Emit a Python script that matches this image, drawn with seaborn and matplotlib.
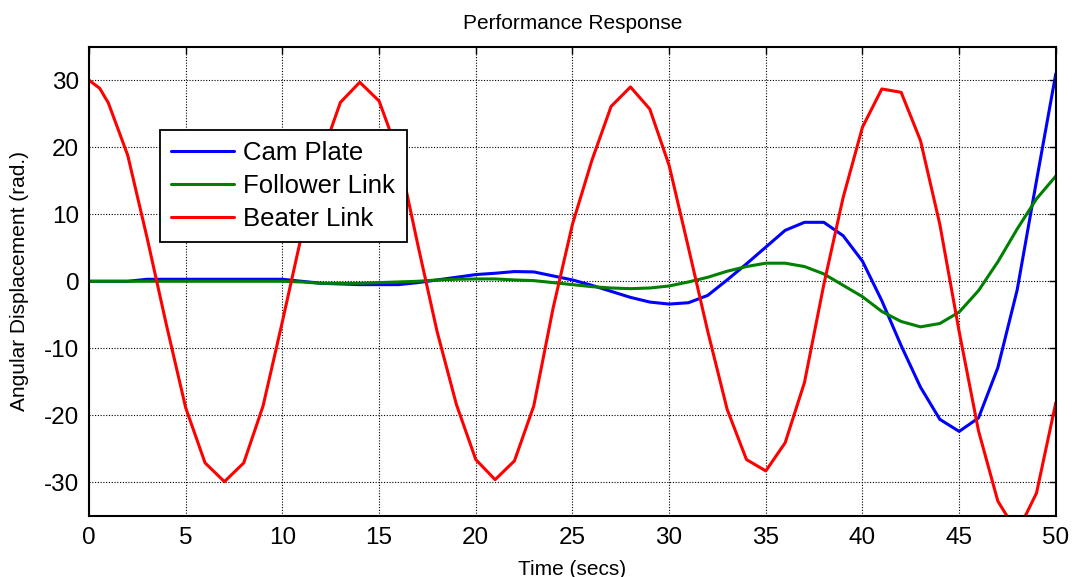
import numpy as np
import pandas as pd
import matplotlib
matplotlib.use("Agg")
import matplotlib.pyplot as plt
import seaborn as sns

# Simulation output (time in seconds, angular displacement in rad.)
time = [0, 0.55] + list(range(1, 51))

cam_plate = [0, 0, 0, 0, 0.3, 0.3, 0.3, 0.3, 0.3, 0.3, 0.3, 0.3,
             0.0, -0.3, -0.4, -0.5, -0.5, -0.5, -0.2, 0.2, 0.6, 1.0,
             1.2, 1.45, 1.4, 0.8, 0.2, -0.6, -1.5, -2.4, -3.1, -3.4,
             -3.2, -2.1, 0.2, 2.6, 5.1, 7.6, 8.8, 8.8, 6.8, 3.0,
             -2.9, -9.6, -15.8, -20.6, -22.4, -20.4, -12.9, -1.3, 15.0, 31.0]

follower_link = [0, 0, 0, 0, 0, 0, 0, 0, 0, 0, 0, 0,
                 -0.1, -0.3, -0.3, -0.3, -0.2, -0.1, 0.0, 0.2, 0.3, 0.35,
                 0.35, 0.2, 0.1, -0.2, -0.5, -0.8, -1.0, -1.1, -1.0, -0.7,
                 -0.1, 0.6, 1.5, 2.2, 2.7, 2.7, 2.2, 1.1, -0.6, -2.3,
                 -4.5, -6.0, -6.8, -6.3, -4.6, -1.4, 2.9, 7.8, 12.3, 15.7]

beater_link = [30.0, 28.8, 26.6, 18.8, 6.5, -6.5, -18.9, -27.1, -29.9, -27.1,
               -18.6, -6.0, 7.0, 18.5, 26.7, 29.7, 26.9, 19.0, 5.5, -7.5,
               -18.4, -26.6, -29.6, -26.8, -18.6, -4.0, 8.5, 18.0, 26.1, 29.0,
               25.7, 17.3, 5.0, -7.5, -19.1, -26.6, -28.3, -24.1, -15.1, -0.5,
               12.5, 23.0, 28.7, 28.2, 21.0, 8.5, -7.5, -22.3, -32.8, -37.5,
               -31.6, -18.1]

series_names = ["Cam Plate", "Follower Link", "Beater Link"]
series_colors = {"Cam Plate": "#0000ff", "Follower Link": "#008000", "Beater Link": "#ff0000"}

x_ticks = list(range(0, 51, 5))
y_ticks = list(range(-30, 31, 10))

df = pd.concat([
    pd.DataFrame({"Time": time, "Value": vals, "Series": name})
    for name, vals in zip(series_names, [cam_plate, follower_link, beater_link])
], ignore_index=True)

sns.set_style("white")
plt.rcParams["font.family"] = ["Liberation Sans", "DejaVu Sans"]
plt.rcParams["axes.unicode_minus"] = False
plt.rcParams["text.color"] = "black"
plt.rcParams["axes.labelcolor"] = "black"
plt.rcParams["xtick.color"] = "black"
plt.rcParams["ytick.color"] = "black"

fig = plt.figure(figsize=(10.73, 5.77), dpi=100)
ax = fig.add_axes([0.083, 0.106, 0.901, 0.813])

sns.lineplot(data=df, x="Time", y="Value", hue="Series", hue_order=series_names,
             palette=series_colors, sort=False, estimator=None, linewidth=2.2,
             ax=ax, legend=False)

ax.set_xlim(0, 50)
ax.set_ylim(-35, 35)
ax.set_xticks(x_ticks)
ax.set_yticks(y_ticks)
ax.tick_params(axis="both", direction="in", length=5, width=1, labelsize=17.5,
               top=True, right=True, colors="black")
ax.tick_params(axis="x", pad=8)
ax.tick_params(axis="y", pad=7)

ax.grid(True, color="black", linestyle=(0, (1, 1.5)), linewidth=0.8)
ax.set_axisbelow(True)
for sp in ax.spines.values():
    sp.set_color("black")
    sp.set_linewidth(1.5)

ax.set_title("Performance Response", fontsize=15, pad=13)
ax.set_xlabel("Time (secs)", fontsize=15, labelpad=8)
ax.set_ylabel("Angular Displacement (rad.)", fontsize=15, labelpad=11)

handles = [plt.Line2D([], [], color=series_colors[n], linewidth=2.2) for n in series_names]
leg = ax.legend(handles, series_names, loc="upper left", bbox_to_anchor=(0.073, 0.823),
                fontsize=18.5, frameon=True, fancybox=False, framealpha=1,
                edgecolor="black", handlelength=2.45, handletextpad=0.35,
                borderpad=0.45, labelspacing=0.34, borderaxespad=0)
leg.get_frame().set_linewidth(1.3)

fig.savefig("out.png", dpi=100, facecolor="white")
